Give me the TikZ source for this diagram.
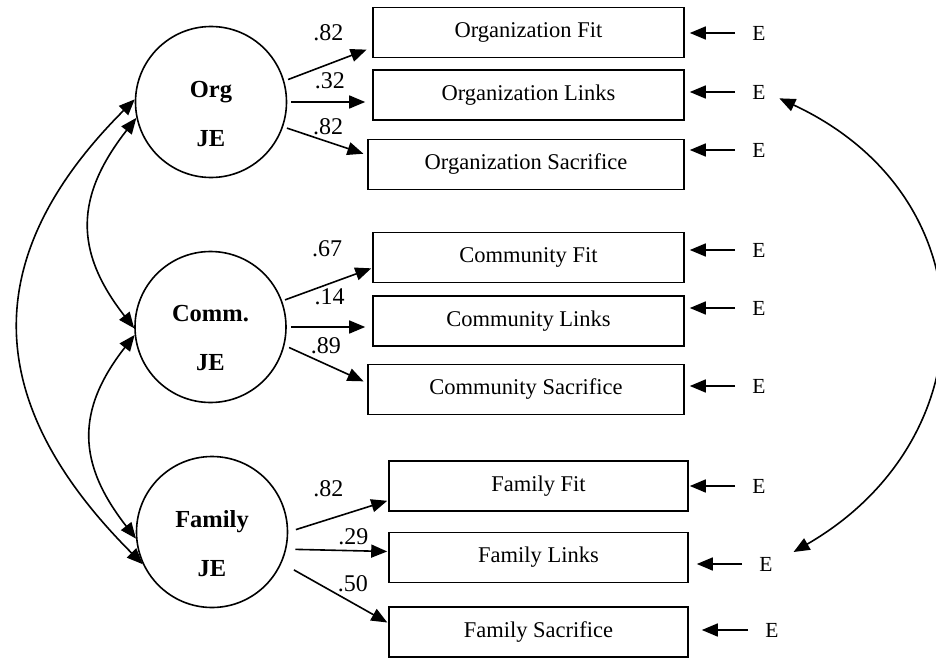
\documentclass[tikz,border=0pt]{standalone}
\usepackage{fontspec}
\setmainfont{Liberation Serif}
\usetikzlibrary{arrows.meta, positioning}

\begin{document}
\begin{tikzpicture}[
    x=1pt, y=-1pt,
    latent/.style={circle, draw=black, line width=1.6pt, minimum size=151pt, inner sep=0pt},
    ltext/.style={align=center, inner sep=0pt, font=\fontsize{24.5}{49}\selectfont\bfseries},
    item/.style={rectangle, draw=black, line width=1.6pt, minimum height=50pt, inner sep=0pt, font=\fontsize{22.5}{27}\selectfont},
    err/.style={inner sep=0pt, font=\fontsize{21.5}{26}\selectfont},
    lbl/.style={inner sep=0pt, font=\fontsize{24}{28}\selectfont},
    arrow/.style={-{Triangle[length=16pt, width=13pt]}, line width=1.6pt},
    both/.style={{Triangle[length=16pt, width=13pt]}-{Triangle[length=16pt, width=13pt]}, line width=1.6pt}
]
    \useasboundingbox (0,0) rectangle (936,658);

    % latent factors
    \node[latent] (org) at (211,102) {};
    \node[latent] (comm) at (210.5,327) {};
    \node[latent] (fam) at (212,532) {};
    \node[ltext] (orgtxt) at ([yshift=-12pt]org.center) {Org\\JE};
    \node[ltext] (commtxt) at ([yshift=-11pt]comm.center) {Comm.\\JE};
    \node[ltext] (famtxt) at ([yshift=-12pt]fam.center) {Family\\JE};

    % indicators
    \node[item, minimum width=311pt] (ofit) at (528.5,32.5) {Organization Fit};
    \node[item, minimum width=311pt] (olink) at (528.5,95) {Organization Links};
    \node[item, minimum width=316pt] (osac) at (526,164.5) {Organization Sacrifice};
    \node[item, minimum width=311pt] (cfit) at (528.5,257.5) {Community Fit};
    \node[item, minimum width=311pt] (clink) at (528.5,321) {Community Links};
    \node[item, minimum width=316pt] (csac) at (526,389.5) {Community Sacrifice};
    \node[item, minimum width=299pt] (ffit) at (538.5,486) {Family Fit};
    \node[item, minimum width=299pt] (flink) at (538.5,557.5) {Family Links};
    \node[item, minimum width=299pt] (fsac) at (538.5,632) {Family Sacrifice};

    % error terms
    \node[err] (e1) at (759,33) {E};
    \node[err] (e2) at (759,92) {E};
    \node[err] (e3) at (759,150) {E};
    \node[err] (e4) at (759,250) {E};
    \node[err] (e5) at (759,308) {E};
    \node[err] (e6) at (759,386) {E};
    \node[err] (e7) at (759,486) {E};
    \node[err] (e8) at (766,564) {E};
    \node[err] (e9) at (772,630) {E};

    % loadings
    \draw[arrow, shorten <=4pt, shorten >=6pt] (org.16) -- ([yshift=-15pt]ofit.west) node[lbl, midway, above=23pt] {.82};
    \draw[arrow, shorten <=4pt, shorten >=7pt] (org.0) -- ([yshift=-7pt]olink.west) node[lbl, midway, above=12pt] {.32};
    \draw[arrow, shorten <=4pt, shorten >=4pt] (org.-19) -- ([yshift=9.5pt]osac.west) node[lbl, midway, above=5pt, xshift=3pt] {.82};
    \draw[arrow, shorten <=3pt, shorten >=1pt] (comm.20) -- ([yshift=-10.5pt]cfit.west) node[lbl, midway, above=27pt] {.67};
    \draw[arrow, shorten <=4pt, shorten >=7pt] (comm.0) -- ([yshift=-6pt]clink.west) node[lbl, midway, above=21pt] {.14};
    \draw[arrow, shorten <=5pt, shorten >=4pt] (comm.-14) -- ([yshift=6.5pt]csac.west) node[lbl, midway, above=10pt] {.89};
    \draw[arrow, shorten <=8pt, shorten >=1pt] (fam.0) -- ([yshift=-14.5pt]ffit.west) node[lbl, midway, above=19pt, xshift=-10pt] {.82};
    \draw[arrow, shorten <=9pt, shorten >=1pt] (fam.-13) -- ([yshift=6pt]flink.west) node[lbl, midway, above=5pt, xshift=16pt] {.29};
    \draw[arrow, shorten <=14pt, shorten >=1pt] (fam.-24) -- ([yshift=9pt]fsac.west) node[lbl, midway, above=0pt, xshift=18pt] {.50};

    % errors to indicators
    \draw[arrow, shorten <=17pt, shorten >=5pt] (e1.west) -- (e1.west -| ofit.east);
    \draw[arrow, shorten <=17pt, shorten >=5pt] (e2.west) -- (e2.west -| olink.east);
    \draw[arrow, shorten <=17pt, shorten >=5pt] (e3.west) -- (e3.west -| osac.east);
    \draw[arrow, shorten <=17pt, shorten >=5pt] (e4.west) -- (e4.west -| cfit.east);
    \draw[arrow, shorten <=17pt, shorten >=5pt] (e5.west) -- (e5.west -| clink.east);
    \draw[arrow, shorten <=17pt, shorten >=5pt] (e6.west) -- (e6.west -| csac.east);
    \draw[arrow, shorten <=17pt, shorten >=1pt] (e7.west) -- (e7.west -| ffit.east);
    \draw[arrow, shorten <=17pt, shorten >=8pt] (e8.west) -- (e8.west -| flink.east);
    \draw[arrow, shorten <=17pt, shorten >=13pt] (e9.west) -- (e9.west -| fsac.east);

    % covariances
    \draw[both] (org.192) to[out=232, in=128, looseness=1.2] (comm.181);
    \draw[both] (comm.186) to[out=232, in=128, looseness=1.2] (fam.185);
    \draw[both] (org.178) to[out=225, in=135, looseness=1.24] (fam.205);
    \draw[both, shorten <=15pt, shorten >=24pt] (e2.east) to[out=-25, in=30, looseness=1.35] (e8.east);

\end{tikzpicture}
\end{document}
